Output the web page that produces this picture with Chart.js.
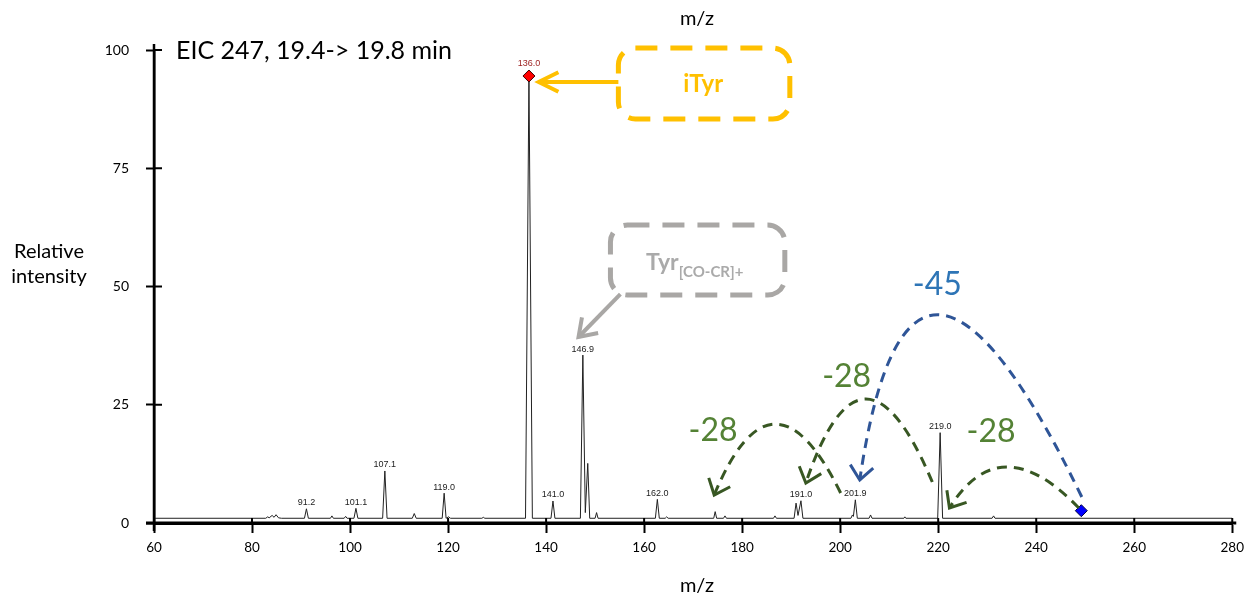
<!DOCTYPE html>
<html>
<head>
<meta charset="utf-8">
<script src="https://cdn.jsdelivr.net/npm/chart.js@4"></script>
<style>
	html, body { margin: 0; padding: 0; background: #fff; }
	#wrap { width: 1251px; height: 597px; position: relative; }
</style>
</head>
<body>
<div id="wrap"><canvas id="myChart"></canvas></div>
<script>
/* Spectrum profile (m/z, relative intensity) */
const mzValues = [
	60,
	82.8, 83.2, 83.5, 84.1, 84.5, 84.9, 85.4, 86.0,
	90.7, 91.1, 91.5,
	96.0, 96.3, 96.6,
	98.8, 99.1, 99.4,
	100.8, 101.2, 101.6,
	106.65, 107.1, 107.55,
	112.7, 113.1, 113.5,
	118.8, 119.2, 119.6, 120.1, 120.5,
	126.9, 127.2, 127.5,
	135.8, 136.5, 137.2,
	141.0, 141.4, 141.8,
	147.0, 147.5, 148.0, 148.5, 148.9,
	150.0, 150.3, 150.6,
	162.3, 162.7, 163.1,
	164.3, 164.6, 164.9,
	174.2, 174.5, 174.8,
	176.2, 176.5, 176.8,
	186.4, 186.7, 187.0,
	190.6, 191.0, 191.4, 192.0, 192.4,
	202.2, 202.5, 202.7, 203.1, 203.5,
	205.9, 206.2, 206.5,
	213.0, 213.2, 213.4,
	219.9, 220.4, 220.9,
	231.0, 231.3, 231.6,
	280,
]
const intensityValues = [
	1.0,
	1.0, 1.3, 1.1, 1.6, 1.2, 1.75, 1.1, 1.0,
	1.0, 3.0, 1.0,
	1.0, 1.5, 1.0,
	1.0, 1.4, 1.0,
	1.0, 3.1, 1.0,
	1.0, 11.0, 1.0,
	1.0, 2.0, 1.0,
	1.0, 6.3, 1.0, 1.3, 1.0,
	1.0, 1.2, 1.0,
	1.0, 94.5, 1.0,
	1.0, 4.65, 1.0,
	1.0, 35.5, 2.2, 12.6, 1.0,
	1.0, 2.2, 1.0,
	1.0, 5.0, 1.0,
	1.0, 1.3, 1.0,
	1.0, 2.4, 1.0,
	1.0, 1.5, 1.0,
	1.0, 1.5, 1.0,
	1.0, 4.2, 1.6, 4.7, 1.0,
	1.0, 1.7, 1.4, 4.9, 1.0,
	1.0, 1.7, 1.0,
	1.0, 1.3, 1.0,
	1.0, 19.1, 1.0,
	1.0, 1.5, 1.0,
	1.0,
]

/* Peak labels */
const peakLabelMz = [91.1, 101.2, 107.1, 119.2, 136.5, 141.4, 147.5, 162.7, 192.0, 203.1, 220.4]
const peakLabelTop = [3.0, 3.1, 11.0, 6.3, 94.5, 4.65, 35.5, 5.0, 4.7, 4.9, 19.1]
const peakLabelText = ['91.2', '101.1', '107.1', '119.0', '136.0', '141.0', '146.9', '162.0', '191.0', '201.9', '219.0']

/* Diamond markers: base peak and precursor */
const markerMz = [136.5, 249.2]
const markerInt = [94.5, 2.6]

/* Axis ticks */
const xMin = 60, xMax = 280, xStep = 20
const yMin = 0, yMax = 100, yStep = 25

/* Neutral-loss arcs (from -> apex -> arrow tip, in m/z / intensity) */
const arcs = [
	{ from: [200.1, 6.34], apex: [186.7, 20.9], to: [174.3, 5.92], color: '#385723', text: '-28', textAt: [174.07, 19.45], textColor: '#548235' },
	{ from: [218.8, 8.67], apex: [205.2, 26.2], to: [193.0, 8.46], color: '#385723', text: '-28', textAt: [201.32, 30.87], textColor: '#548235' },
	{ from: [248.7, 3.17], apex: [234.1, 11.84], to: [222.3, 3.17], color: '#385723', text: '-28', textAt: [230.8, 19.24], textColor: '#548235' },
	{ from: [249.3, 5.5], apex: [220.4, 44.0], to: [204.0, 9.1], color: '#2F5597', text: '-45', textAt: [219.82, 50.32], textColor: '#2E75B6' },
]

const FONT = 'Lato, "Open Sans", sans-serif'

function arrowHead(ctx, tip, dir, len, ang) {
	const a = Math.atan2(dir[1], dir[0]) + Math.PI
	ctx.beginPath()
	ctx.moveTo(tip[0] + len * Math.cos(a - ang), tip[1] + len * Math.sin(a - ang))
	ctx.lineTo(tip[0], tip[1])
	ctx.lineTo(tip[0] + len * Math.cos(a + ang), tip[1] + len * Math.sin(a + ang))
	ctx.stroke()
}

function roundBox(ctx, x1, y1, x2, y2, r) {
	ctx.beginPath()
	ctx.moveTo(x1 + r, y1)
	ctx.lineTo(x2 - r, y1)
	ctx.arcTo(x2, y1, x2, y1 + r, r)
	ctx.lineTo(x2, y2 - r)
	ctx.arcTo(x2, y2, x2 - r, y2, r)
	ctx.lineTo(x1 + r, y2)
	ctx.arcTo(x1, y2, x1, y2 - r, r)
	ctx.lineTo(x1, y1 + r)
	ctx.arcTo(x1, y1, x1 + r, y1, r)
	ctx.closePath()
	ctx.stroke()
}

const annotate = {
	id: 'annotate',
	afterDraw(chart) {
		const ctx = chart.ctx
		const xs = chart.scales.x
		const ys = chart.scales.y
		const X = v => xs.getPixelForValue(v)
		const Y = v => ys.getPixelForValue(v)
		const { left, right, top, bottom } = chart.chartArea

		ctx.save()

		/* axis lines extended + inner halves of the cross ticks */
		ctx.strokeStyle = '#000'
		ctx.lineWidth = 2.5
		ctx.beginPath()
		ctx.moveTo(left, top - 6)
		ctx.lineTo(left, bottom + 8)
		ctx.stroke()
		ctx.lineWidth = 3
		ctx.beginPath()
		ctx.moveTo(left - 8, bottom)
		ctx.lineTo(right + 4, bottom)
		ctx.stroke()
		ctx.lineWidth = 2
		ys.ticks.forEach((t, i) => {
			const p = ys.getPixelForTick(i)
			ctx.beginPath()
			ctx.moveTo(left, p)
			ctx.lineTo(left + 8, p)
			ctx.stroke()
		})
		xs.ticks.forEach((t, i) => {
			const p = xs.getPixelForTick(i)
			ctx.beginPath()
			ctx.moveTo(p, bottom)
			ctx.lineTo(p, bottom - 5)
			ctx.stroke()
		})

		/* peak labels */
		ctx.textAlign = 'center'
		ctx.textBaseline = 'middle'
		ctx.font = '9px "Liberation Sans", Arial, sans-serif'
		peakLabelText.forEach((txt, i) => {
			const isBase = txt === '136.0'
			ctx.fillStyle = isBase ? '#9b1c1c' : '#222'
			ctx.fillText(txt, X(peakLabelMz[i]), Y(peakLabelTop[i]) - (isBase ? 12 : 6))
		})

		/* titles */
		ctx.fillStyle = '#000'
		ctx.textAlign = 'left'
		ctx.textBaseline = 'alphabetic'
		ctx.font = '25px ' + FONT
		ctx.fillText('EIC 247, 19.4-> 19.8 min', 176, 59)
		ctx.textAlign = 'center'
		ctx.textBaseline = 'middle'
		ctx.font = '20px ' + FONT
		ctx.fillText('m/z', 697, 19)
		ctx.fillText('m/z', 697, 586)
		ctx.fillText('Relative', 49, 252)
		ctx.fillText('intensity', 49, 277)

		/* iTyr callout */
		ctx.strokeStyle = '#FFC000'
		ctx.fillStyle = '#FFC000'
		ctx.lineWidth = 5
		ctx.setLineDash([22, 13])
		roundBox(ctx, X(154.75), Y(100.42), X(189.73), Y(85.41), 17)
		ctx.setLineDash([])
		ctx.lineWidth = 4
		ctx.beginPath()
		ctx.moveTo(X(154.75), Y(93.23))
		ctx.lineTo(X(138.49), Y(93.23))
		ctx.stroke()
		arrowHead(ctx, [X(138.49), Y(93.23)], [-1, 0], 22, 0.46)
		ctx.font = 'bold 24px ' + FONT
		ctx.textBaseline = 'alphabetic'
		ctx.fillText('iTyr', X(172.04), Y(91.12))

		/* Tyr[CO-CR]+ callout */
		ctx.strokeStyle = '#a9a7a5'
		ctx.fillStyle = '#aaaaaa'
		ctx.lineWidth = 5
		ctx.setLineDash([22, 13])
		roundBox(ctx, X(153.13), Y(63.0), X(188.71), Y(48.2), 17)
		ctx.setLineDash([])
		ctx.lineWidth = 4
		const g0 = [X(155.16), Y(48.41)]
		const g1 = [X(146.62), Y(39.32)]
		ctx.beginPath()
		ctx.moveTo(g0[0], g0[1])
		ctx.lineTo(g1[0], g1[1])
		ctx.stroke()
		arrowHead(ctx, g1, [g1[0] - g0[0], g1[1] - g0[1]], 20, 0.6)
		ctx.textAlign = 'left'
		ctx.font = 'bold 23px ' + FONT
		const tx = X(160.4), ty = Y(53.49)
		ctx.fillText('Tyr', tx, ty)
		const tw = ctx.measureText('Tyr').width
		ctx.font = 'bold 15px ' + FONT
		ctx.fillText('[CO-CR]+', tx + tw, ty + 7)

		/* neutral-loss arcs */
		arcs.forEach(a => {
			const s = [X(a.from[0]), Y(a.from[1])]
			const m = [X(a.apex[0]), Y(a.apex[1])]
			const e = [X(a.to[0]), Y(a.to[1])]
			const c = [2 * m[0] - (s[0] + e[0]) / 2, 2 * m[1] - (s[1] + e[1]) / 2]
			ctx.strokeStyle = a.color
			ctx.lineWidth = 3
			ctx.setLineDash([10, 7])
			ctx.beginPath()
			ctx.moveTo(s[0], s[1])
			ctx.quadraticCurveTo(c[0], c[1], e[0], e[1])
			ctx.stroke()
			ctx.setLineDash([])
			arrowHead(ctx, e, [e[0] - c[0], e[1] - c[1]], 18, 0.7)
			ctx.fillStyle = a.textColor
			ctx.font = '32px ' + FONT
			ctx.textAlign = 'center'
			ctx.textBaseline = 'middle'
			ctx.fillText(a.text, X(a.textAt[0]), Y(a.textAt[1]))
		})

		ctx.restore()
	},
}

const ctx = document.getElementById('myChart')

new Chart(ctx, {
	type: 'scatter',
	data: {
		datasets: [
			{
				label: 'spectrum',
				data: mzValues.map((mz, i) => ({ x: mz, y: intensityValues[i] })),
				showLine: true,
				borderColor: '#222',
				borderWidth: 1,
				pointRadius: 0,
				tension: 0,
				order: 2,
			},
			{
				label: 'markers',
				data: markerMz.map((mz, i) => ({ x: mz, y: markerInt[i] })),
				showLine: false,
				pointStyle: 'rectRot',
				pointRadius: 6,
				pointBackgroundColor: ['#ff0000', '#0000ff'],
				pointBorderColor: ['#400000', '#000040'],
				pointBorderWidth: 1,
				order: 1,
			},
		],
	},
	options: {
		responsive: true,
		maintainAspectRatio: false,
		animation: false,
		devicePixelRatio: 1,
		layout: {
			padding: { top: 50, right: 15, bottom: 0, left: 0 },
		},
		plugins: {
			legend: { display: false },
			tooltip: { enabled: false },
		},
		scales: {
			x: {
				type: 'linear',
				min: xMin,
				max: xMax,
				afterFit: s => { s.height = 74 },
				ticks: {
					stepSize: xStep,
					color: '#000',
					padding: 7,
					font: { family: FONT, size: 13.5 },
				},
				grid: {
					drawOnChartArea: false,
					tickLength: 10,
					tickWidth: 2,
					tickColor: '#000',
				},
				border: { color: '#000', width: 3 },
			},
			y: {
				min: yMin,
				max: yMax,
				afterFit: s => { s.width = 154 },
				ticks: {
					stepSize: yStep,
					color: '#000',
					padding: 17,
					font: { family: FONT, size: 14 },
				},
				grid: {
					drawOnChartArea: false,
					tickLength: 8,
					tickWidth: 2,
					tickColor: '#000',
				},
				border: { color: '#000', width: 2.5 },
			},
		},
	},
	plugins: [annotate],
})
</script>
</body>
</html>
